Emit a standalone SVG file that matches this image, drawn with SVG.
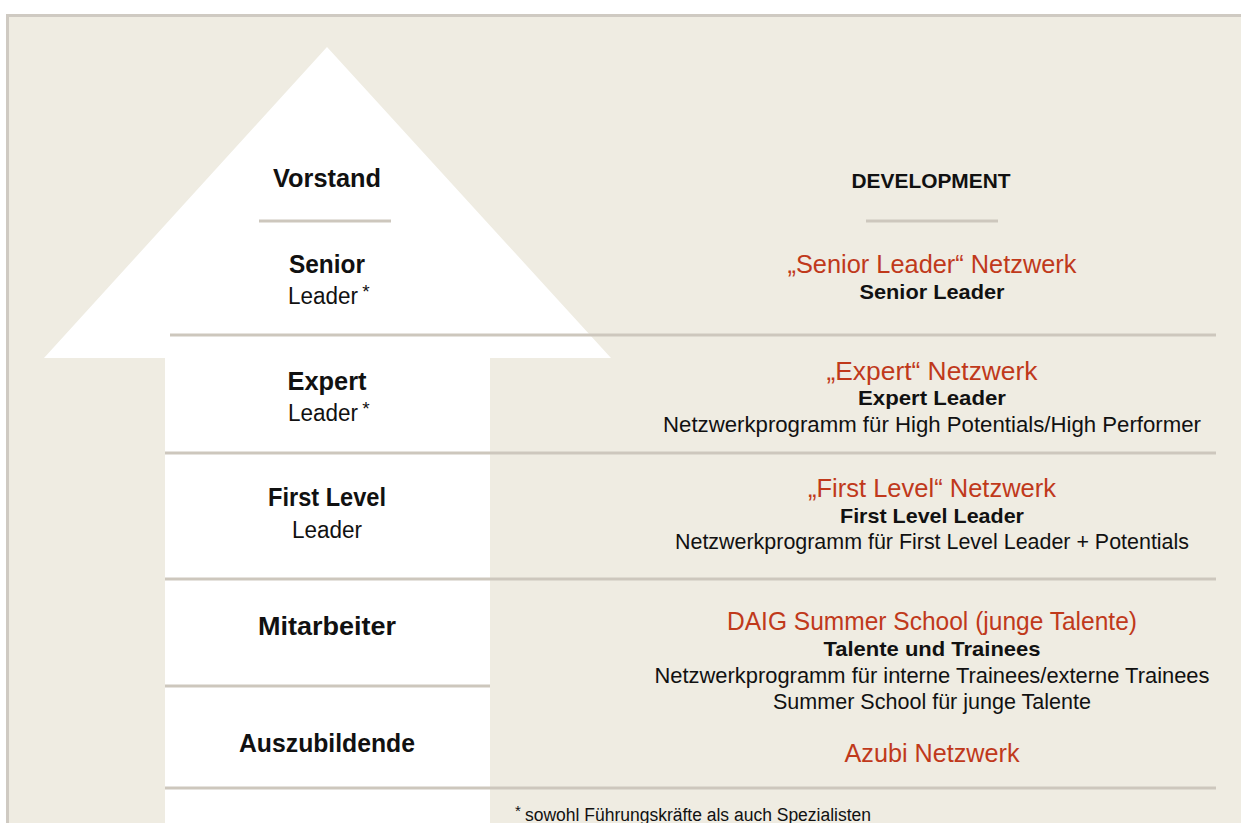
<svg xmlns="http://www.w3.org/2000/svg" width="1241" height="823" viewBox="0 0 1241 823">
<style>
text{font-family:"Liberation Sans",Arial,sans-serif;text-anchor:middle;fill:#111}
.lb{font-size:25px;font-weight:bold}
.lr{font-size:23px}
.red{font-size:25px;fill:#c0391b}
.sb{font-size:21px;font-weight:bold}
.sr{font-size:22px}
.ast{font-size:19px}
.sep{stroke:#cdc7bd;stroke-width:3;fill:none}
</style>
<rect x="0" y="0" width="1241" height="823" fill="#ffffff"/>
<rect x="7" y="15" width="1234" height="808" fill="#efece2"/>
<path d="M6 15.5H1241M7.5 15V823" stroke="#cfcac2" stroke-width="3" fill="none"/>
<g id="arrow">
<polygon points="327,47 611,358 490,358 490,823 165,823 165,358 44,358" fill="#ffffff"/>
</g>
<g id="separators">
<line class="sep" x1="259" y1="221" x2="391" y2="221"/>
<line class="sep" x1="866" y1="221" x2="998" y2="221"/>
<line class="sep" x1="170" y1="335" x2="1216" y2="335"/>
<line class="sep" x1="165" y1="453" x2="1216" y2="453"/>
<line class="sep" x1="165" y1="579" x2="1216" y2="579"/>
<line class="sep" x1="165" y1="686" x2="490" y2="686"/>
<line class="sep" x1="165" y1="788" x2="1216" y2="788"/>
</g>
<g id="row-vorstand">
<text class="lb" x="327" y="187" textLength="108" lengthAdjust="spacingAndGlyphs">Vorstand</text>
<text class="sb" x="931" y="188" textLength="159" lengthAdjust="spacingAndGlyphs">DEVELOPMENT</text>
</g>
<g id="row-senior">
<text class="lb" x="327" y="273" textLength="76" lengthAdjust="spacingAndGlyphs">Senior</text>
<text class="lr" x="323" y="304" textLength="70" lengthAdjust="spacingAndGlyphs">Leader</text>
<text class="ast" x="366" y="298">*</text>
<text class="red" x="932" y="273" textLength="289" lengthAdjust="spacingAndGlyphs">„Senior Leader“ Netzwerk</text>
<text class="sb" x="932" y="299" textLength="145" lengthAdjust="spacingAndGlyphs">Senior Leader</text>
</g>
<g id="row-expert">
<text class="lb" x="327" y="390" textLength="79" lengthAdjust="spacingAndGlyphs">Expert</text>
<text class="lr" x="323" y="421" textLength="70" lengthAdjust="spacingAndGlyphs">Leader</text>
<text class="ast" x="366" y="415">*</text>
<text class="red" x="932" y="380" textLength="211" lengthAdjust="spacingAndGlyphs">„Expert“ Netzwerk</text>
<text class="sb" x="932" y="405" textLength="148" lengthAdjust="spacingAndGlyphs">Expert Leader</text>
<text class="sr" x="932" y="432" textLength="538" lengthAdjust="spacingAndGlyphs">Netzwerkprogramm für High Potentials/High Performer</text>
</g>
<g id="row-first-level">
<text class="lb" x="327" y="506" textLength="118" lengthAdjust="spacingAndGlyphs">First Level</text>
<text class="lr" x="327" y="538" textLength="70" lengthAdjust="spacingAndGlyphs">Leader</text>
<text class="red" x="932" y="497" textLength="248" lengthAdjust="spacingAndGlyphs">„First Level“ Netzwerk</text>
<text class="sb" x="932" y="523" textLength="184" lengthAdjust="spacingAndGlyphs">First Level Leader</text>
<text class="sr" x="932" y="549" textLength="514" lengthAdjust="spacingAndGlyphs">Netzwerkprogramm für First Level Leader + Potentials</text>
</g>
<g id="row-mitarbeiter">
<text class="lb" x="327" y="635" textLength="138" lengthAdjust="spacingAndGlyphs">Mitarbeiter</text>
<text class="red" x="932" y="630" textLength="410" lengthAdjust="spacingAndGlyphs">DAIG Summer School (junge Talente)</text>
<text class="sb" x="932" y="656" textLength="217" lengthAdjust="spacingAndGlyphs">Talente und Trainees</text>
<text class="sr" x="932" y="683" textLength="555" lengthAdjust="spacingAndGlyphs">Netzwerkprogramm für interne Trainees/externe Trainees</text>
<text class="sr" x="932" y="709" textLength="318" lengthAdjust="spacingAndGlyphs">Summer School für junge Talente</text>
</g>
<g id="row-auszubildende">
<text class="lb" x="327" y="752" textLength="176" lengthAdjust="spacingAndGlyphs">Auszubildende</text>
<text class="red" x="932" y="762" textLength="175" lengthAdjust="spacingAndGlyphs">Azubi Netzwerk</text>
</g>
<g id="footnote">
<text x="518" y="816" style="font-size:15px">*</text>
<text x="525" y="821" style="text-anchor:start;font-size:18px" textLength="346" lengthAdjust="spacingAndGlyphs">sowohl Führungskräfte als auch Spezialisten</text>
</g>
</svg>
